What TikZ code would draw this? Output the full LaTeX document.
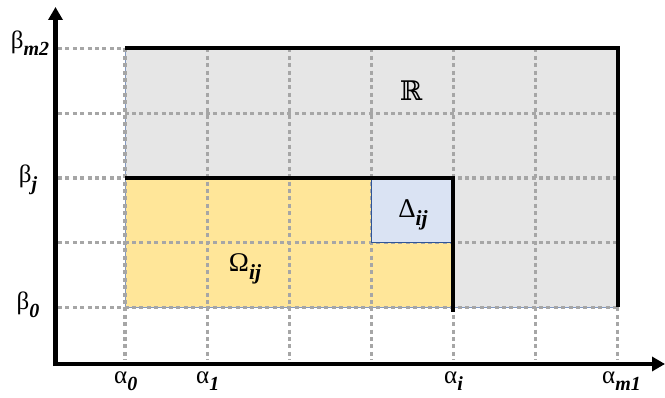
\documentclass[tikz,border=0pt]{standalone}
\usepackage{fontspec}
\setmainfont{Liberation Serif}
\newfontfamily\rfont{DejaVu Serif}
\usetikzlibrary{arrows.meta}
\definecolor{gridgray}{HTML}{A6A6A6}
\definecolor{regiongray}{HTML}{E6E6E6}
\definecolor{omyellow}{HTML}{FFE699}
\definecolor{delblue}{HTML}{DAE3F3}
\definecolor{edgeblue}{HTML}{2F5597}
\newcommand\lbsub[1]{\raisebox{-0.3em}{\scalebox{0.8}{\bfseries\itshape #1}}}
\tikzset{
  gridline/.style={draw=gridgray,line width=3.2pt,dash pattern=on 4pt off 3.4pt},
  thickedge/.style={draw=black,line width=4pt},
  axisline/.style={draw=black,line width=4.5pt,-{Triangle[width=14pt,length=13pt]}},
  lbl/.style={inner sep=0pt,font=\fontsize{25}{28}\selectfont},
  biglbl/.style={inner sep=0pt,font=\fontsize{27}{30}\selectfont}
}
\begin{document}
\begin{tikzpicture}[x=1pt,y=-1pt]
\useasboundingbox (0,0) rectangle (665,398);
% fills
\fill[regiongray,draw=edgeblue!60,line width=0.5pt] (125,48.5) rectangle (617.5,307.5);
\fill[omyellow,draw=edgeblue!60,line width=0.5pt] (125,178) rectangle (453.3,307.5);
% grid
\foreach \yy in {48.5,113.25,178,242.75,307.5}
  \draw[gridline] (58,\yy) -- (617.5,\yy);
\foreach \xx in {125,207.1,289.2,371.25,453.3,535.4,617.5}
  \draw[gridline] (\xx,48.5) -- (\xx,360);
% Delta cell
\draw[fill=delblue,draw=edgeblue,line width=0.8pt] (371.25,178) rectangle (453.3,242.75);
% thick edges
\draw[thickedge] (125,48.5) -- (617.5,48.5) -- (617.5,307.5);
\draw[thickedge] (125,178) -- (453.3,178) -- (453.3,312);
% axes
\coordinate (O) at (55.5,364);
\coordinate (Ytip) at (55.5,7);
\coordinate (Xtip) at (665,364);
\draw[axisline] ([yshift=-2.25pt]O) -- (Ytip);
\draw[axisline] ([xshift=-2.25pt]O) -- (Xtip);
% labels
\node[lbl] (bm) at (30,43) {β\lbsub{m2}};
\node[lbl] (bj) at (28,180) {β\lbsub{j}};
\node[lbl] (b0) at (28,305) {β\lbsub{0}};
\node[lbl,anchor=west] (a0) at (114,381) {α\lbsub{0}};
\node[lbl,anchor=west] (a1) at (196,381) {α\lbsub{1}};
\node[lbl,anchor=west] (ai) at (444,381) {α\lbsub{i}};
\node[lbl,anchor=west] (am) at (602,381) {α\lbsub{m1}};
\node[inner sep=0pt,font=\rfont\fontsize{27}{30}\selectfont] (R) at (411,91) {ℝ};
\node[biglbl] (Om) at (245,269) {Ω\lbsub{ij}};
\node[biglbl] (De) at (413,215) {Δ\lbsub{ij}};
\end{tikzpicture}
\end{document}
